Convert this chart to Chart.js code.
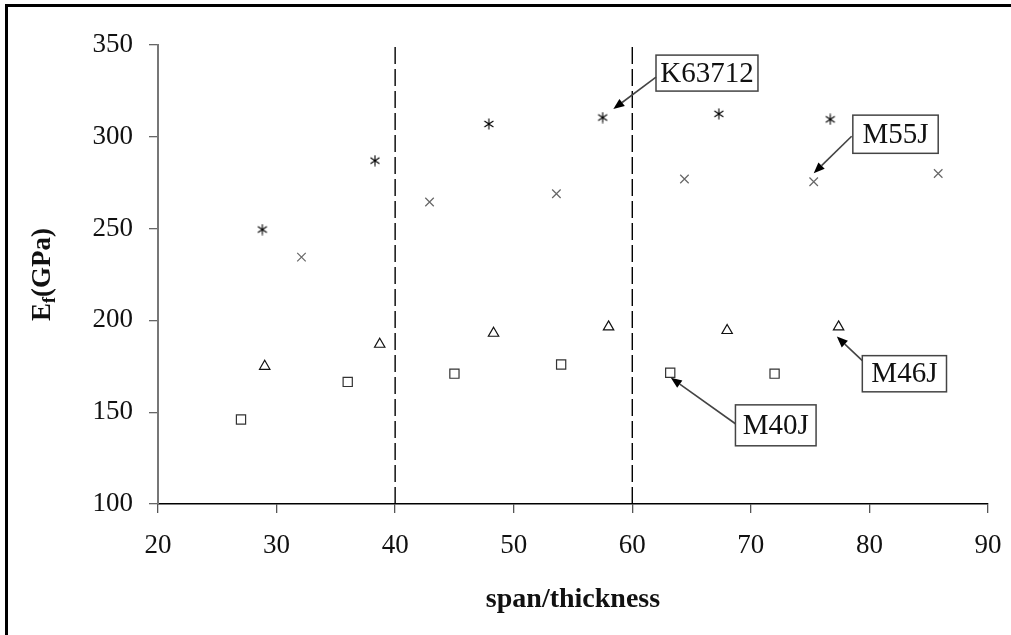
<!DOCTYPE html>
<html>
<head>
<meta charset="utf-8">
<script src="https://cdn.jsdelivr.net/npm/chart.js@4.4.1/dist/chart.umd.min.js"></script>
<style>
  html, body { margin: 0; padding: 0; background: #ffffff; }
  canvas { display: block; }
</style>
</head>
<body>
<canvas id="c" width="1011" height="635"></canvas>
<script>
// ---- data ----
const k63712X = [28.8, 38.3, 47.9, 57.5, 67.3, 76.7];
const k63712Y = [249.5, 287, 307, 310.5, 312.5, 309.5];
const m55jX = [32.1, 42.9, 53.6, 64.4, 75.3, 85.8];
const m55jY = [234.5, 264.5, 269, 277, 275.5, 280];
const m46jX = [29.0, 38.7, 48.3, 58.0, 68.0, 77.4];
const m46jY = [175, 187, 193, 196.5, 194.5, 196.5];
const m40jX = [27.0, 36.0, 45.0, 54.0, 63.2, 72.0];
const m40jY = [146, 166.5, 171, 176, 171.5, 171];
const dividerX = [40, 60];
const xTicks = [20, 30, 40, 50, 60, 70, 80, 90];
const yTicks = [100, 150, 200, 250, 300, 350];
const xTitle = 'span/thickness';
const yTitleMain = 'E', yTitleSub = 'f', yTitleRest = '(GPa)';

// annotation layout (data coordinates)
const annotations = [
  { text: 'K63712', box: [62.0, 70.6, 344.5, 324.9], tail: [62.0, 332.5], head: [58.4, 315.1] },
  { text: 'M55J',   box: [78.6, 85.8, 311.8, 291.0], tail: [78.5, 300.3], head: [75.3, 280.1] },
  { text: 'M46J',   box: [79.4, 86.5, 180.8, 161.1], tail: [79.4, 178.1], head: [77.25, 191.2] },
  { text: 'M40J',   box: [68.7, 75.5, 154.0, 131.7], tail: [68.7, 143.7], head: [63.25, 168.8] }
];

function pts(xs, ys) { return xs.map((x, i) => ({ x: x, y: ys[i] })); }

// asterisk marker (vertical bar + X)
const star = document.createElement('canvas');
star.width = 12; star.height = 12;
(function () {
  const g = star.getContext('2d');
  g.strokeStyle = '#000'; g.lineWidth = 1.1;
  g.beginPath();
  g.moveTo(6, 0.5); g.lineTo(6, 11.5);
  g.moveTo(1.5, 3); g.lineTo(10.5, 9);
  g.moveTo(1.5, 9); g.lineTo(10.5, 3);
  g.stroke();
})();

const FONT = "'Liberation Serif', 'Times New Roman', serif";

const overlay = {
  id: 'overlay',
  afterDraw(chart) {
    const ctx = chart.ctx;
    const xs = chart.scales.x, ys = chart.scales.y;
    const area = chart.chartArea;
    ctx.save();
    // frame (top and left edges)
    ctx.fillStyle = '#000';
    ctx.fillRect(5, 4, 1006, 3);
    ctx.fillRect(5, 4, 3, 631);

    // x title
    ctx.fillStyle = '#111';
    ctx.font = 'bold 28px ' + FONT;
    ctx.textAlign = 'center';
    ctx.textBaseline = 'alphabetic';
    ctx.fillText(xTitle, (area.left + area.right) / 2, 607);

    // y title with subscript
    const big = 'bold 27px ' + FONT, small = 'bold 18px ' + FONT;
    ctx.font = big; const w1 = ctx.measureText(yTitleMain).width;
    const w3 = ctx.measureText(yTitleRest).width;
    ctx.font = small; const w2 = ctx.measureText(yTitleSub).width;
    const total = w1 + w2 + w3;
    ctx.translate(50, (area.top + area.bottom) / 2);
    ctx.rotate(-Math.PI / 2);
    ctx.textAlign = 'left';
    let px = -total / 2;
    ctx.font = big; ctx.fillText(yTitleMain, px, 0); px += w1;
    ctx.font = small; ctx.fillText(yTitleSub, px, 5); px += w2;
    ctx.font = big; ctx.fillText(yTitleRest, px, 0);
    ctx.setTransform(1, 0, 0, 1, 0, 0);

    // annotations
    annotations.forEach(a => {
      const l = xs.getPixelForValue(a.box[0]), r = xs.getPixelForValue(a.box[1]);
      const t = ys.getPixelForValue(a.box[2]), b = ys.getPixelForValue(a.box[3]);
      ctx.fillStyle = '#fff';
      ctx.fillRect(l, t, r - l, b - t);
      ctx.strokeStyle = '#444'; ctx.lineWidth = 1.5;
      ctx.strokeRect(l, t, r - l, b - t);
      ctx.fillStyle = '#111';
      ctx.font = '29px ' + FONT;
      ctx.textAlign = 'center'; ctx.textBaseline = 'middle';
      ctx.fillText(a.text, (l + r) / 2, (t + b) / 2 + 1);
      // arrow
      const x0 = xs.getPixelForValue(a.tail[0]), y0 = ys.getPixelForValue(a.tail[1]);
      const x1 = xs.getPixelForValue(a.head[0]), y1 = ys.getPixelForValue(a.head[1]);
      const ang = Math.atan2(y1 - y0, x1 - x0);
      const hl = 11, hw = 4.5;
      const bx = x1 - hl * Math.cos(ang), by = y1 - hl * Math.sin(ang);
      ctx.strokeStyle = '#444'; ctx.lineWidth = 1.6;
      ctx.beginPath(); ctx.moveTo(x0, y0); ctx.lineTo(bx, by); ctx.stroke();
      ctx.fillStyle = '#000';
      ctx.beginPath();
      ctx.moveTo(x1, y1);
      ctx.lineTo(bx + hw * Math.sin(ang), by - hw * Math.cos(ang));
      ctx.lineTo(bx - hw * Math.sin(ang), by + hw * Math.cos(ang));
      ctx.closePath(); ctx.fill();
    });
    ctx.restore();
  }
};

const dividerSets = dividerX.map(v => ({
  type: 'line',
  data: [{ x: v, y: yTicks[0] }, { x: v, y: yTicks[yTicks.length - 1] }],
  borderColor: '#000', borderWidth: 1.4, borderDash: [17, 5],
  pointRadius: 0, fill: false, order: 10
}));

new Chart(document.getElementById('c'), {
  type: 'scatter',
  data: {
    datasets: [
      ...dividerSets,
      { label: 'K63712', data: pts(k63712X, k63712Y), pointStyle: star, pointRadius: 6 },
      { label: 'M55J', data: pts(m55jX, m55jY), pointStyle: 'crossRot', pointRadius: 6,
        borderColor: '#666', backgroundColor: '#666', pointBorderWidth: 1.2 },
      { label: 'M46J', data: pts(m46jX, m46jY), pointStyle: 'triangle', pointRadius: 6,
        borderColor: '#111', backgroundColor: 'rgba(255,255,255,0)', pointBorderWidth: 1.2 },
      { label: 'M40J', data: pts(m40jX, m40jY), pointStyle: 'rect', pointRadius: 6.5,
        borderColor: '#333', backgroundColor: 'rgba(255,255,255,0)', pointBorderWidth: 1.2 }
    ]
  },
  options: {
    responsive: false,
    animation: false,
    devicePixelRatio: 1,
    layout: { padding: { top: 45, right: 23, bottom: 0, left: 0 } },
    plugins: { legend: { display: false }, tooltip: { enabled: false } },
    scales: {
      x: {
        type: 'linear', min: xTicks[0], max: xTicks[xTicks.length - 1],
        afterFit(s) { s.height = 131; s.paddingLeft = 0; s.paddingRight = 0; },
        afterBuildTicks(s) { s.ticks = xTicks.map(v => ({ value: v })); },
        ticks: { font: { family: FONT, size: 27 }, color: '#111', padding: 17, maxRotation: 0 },
        grid: { drawOnChartArea: false, drawTicks: true, tickLength: 9, color: '#555', lineWidth: 1.3 },
        border: { display: true, color: '#000', width: 1.5 }
      },
      y: {
        type: 'linear', min: yTicks[0], max: yTicks[yTicks.length - 1],
        afterFit(s) { s.width = 158; s.paddingTop = 0; s.paddingBottom = 0; },
        afterBuildTicks(s) { s.ticks = yTicks.map(v => ({ value: v })); },
        ticks: { font: { family: FONT, size: 27 }, color: '#111', padding: 16 },
        grid: { drawOnChartArea: false, drawTicks: true, tickLength: 9, color: '#666', lineWidth: 1.3 },
        border: { display: true, color: '#777', width: 2 }
      }
    }
  },
  plugins: [overlay]
});
</script>
</body>
</html>
